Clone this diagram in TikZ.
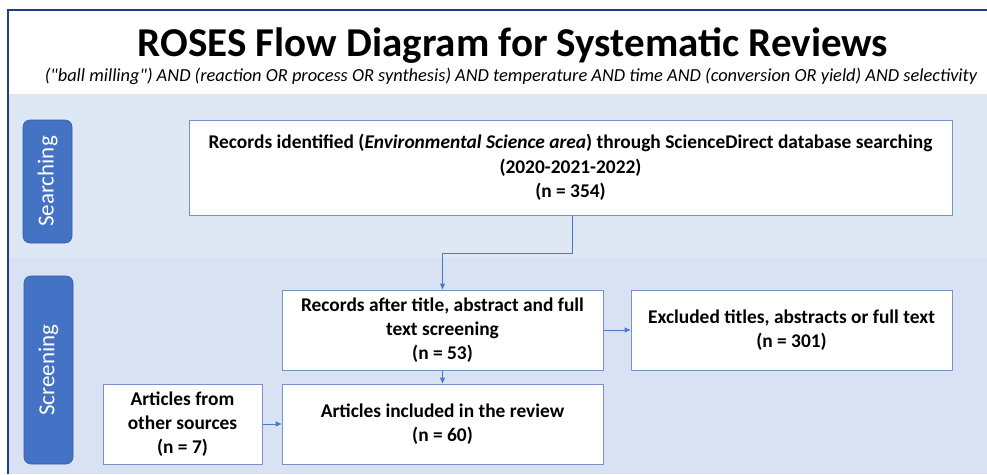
\documentclass[tikz,border=0pt]{standalone}
\usepackage{fontspec}
\setmainfont{Carlito}[Ligatures=TeXOff]
\usetikzlibrary{arrows.meta}
\definecolor{navy}{HTML}{1F3C88}
\definecolor{bandA}{HTML}{DEE8F5}
\definecolor{bandB}{HTML}{D9E2F3}
\definecolor{tabblue}{HTML}{4472C4}
\definecolor{boxedge}{HTML}{7892C8}
\definecolor{linkblue}{HTML}{4A78CC}
\tikzset{
  stagebox/.style={draw=boxedge, line width=1pt, fill=white, align=center,
    font=\fontsize{19.4}{24.3}\selectfont\bfseries, inner sep=0pt},
  stagetab/.style={draw=tabblue!80!black, line width=0.6pt, fill=tabblue, rounded corners=7pt,
    inner sep=0pt, text=white, font=\fontsize{23}{26}\selectfont, rotate=90},
  link/.style={draw=linkblue, line width=1pt, -{Triangle[length=6pt,width=5pt]}},
}
\begin{document}
\begin{tikzpicture}[x=1pt,y=-1pt]
  \useasboundingbox (0,0) rectangle (987,474);
  % phase bands
  \fill[bandA] (9,94) rectangle (987,258);
  \fill[bandB] (9,258) rectangle (987,474);
  % outer frame (left and top edges)
  \draw[navy, line width=1.8pt] (8,474) -- (8,10) -- (987,10);
  % heading
  \node[font=\fontsize{41}{44}\selectfont\bfseries, anchor=base] (title) at (513,56)
    {ROSES Flow Diagram for Systematic Reviews};
  \node[font=\fontsize{18.4}{21}\selectfont\itshape, anchor=base] (query) at (511,81)
    {("ball milling") AND (reaction OR process OR synthesis) AND temperature AND time AND (conversion OR yield) AND selectivity};
  % phase tabs
  \node[stagetab, minimum width=123pt, minimum height=49pt] (searching) at (47.5,181.5) {Searching};
  \node[stagetab, minimum width=188pt, minimum height=49pt] (screening) at (48.5,370) {Screening};
  % boxes
  \node[stagebox, minimum width=763pt, minimum height=95pt] (identified) at (570.5,167.5)
    {Records identified (\textit{Environmental Science area}) through ScienceDirect database searching\\(2020-2021-2022)\\(n = 354)};
  \node[stagebox, minimum width=321pt, minimum height=80pt] (screened) at (442.5,330)
    {Records after title, abstract and full\\text screening\\(n = 53)};
  \node[stagebox, minimum width=321pt, minimum height=80pt] (excluded) at (791.5,330)
    {Excluded titles, abstracts or full text\\(n = 301)};
  \node[stagebox, minimum width=321pt, minimum height=80pt] (included) at (442.5,424)
    {Articles included in the review\\(n = 60)};
  \node[stagebox, minimum width=159pt, minimum height=80pt] (other) at (182.5,424)
    {Articles from\\other sources\\(n = 7)};
  % connectors
  \coordinate (bendA) at (572,253);
  \coordinate (bendB) at (442.5,253);
  \draw[link] (identified.south -| bendA) -- (bendA) -- (bendB) -- (screened.north);
  \draw[link] (screened.east) -- (excluded.west);
  \draw[link] (screened.south) -- (included.north);
  \draw[link] (other.east) -- (included.west);
\end{tikzpicture}
\end{document}
